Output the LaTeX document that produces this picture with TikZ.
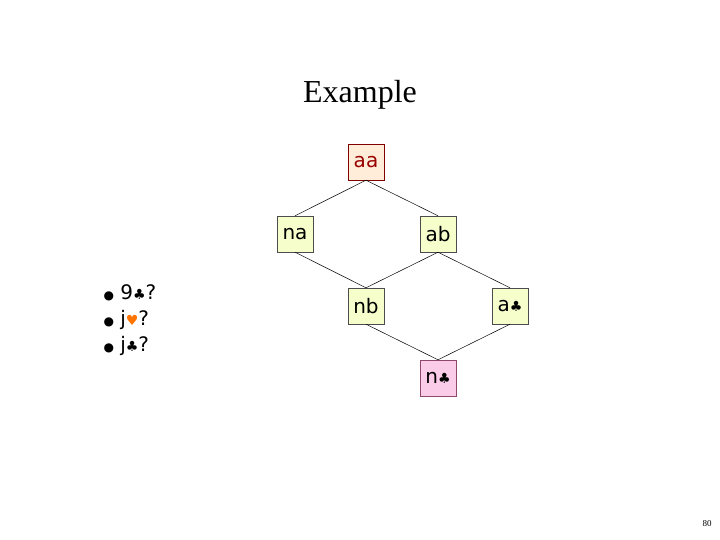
\documentclass[tikz,border=0pt]{standalone}
\usepackage{fontspec}
\setmainfont{DejaVu Sans}
\newfontfamily\titlefont{Liberation Serif}
\begin{document}
\begin{tikzpicture}[x=1pt,y=-1pt,
  box/.style={draw=black!70, minimum width=36pt, minimum height=36pt, inner sep=0pt, font=\fontsize{20}{22}\selectfont},
  gbox/.style={box, fill=green!18!yellow!20},
  edge/.style={draw=black, line width=0.5pt}]
\useasboundingbox (0,0) rectangle (720,540);
\node (title) at (360,95) {\titlefont\fontsize{32}{34}\selectfont Example};
\node[box, fill=orange!15, draw=red!50!black, text=red!60!black] (aa) at (366,162) {aa};
\node[gbox] (na) at (295,234) {na};
\node[gbox] (ab) at (438,234) {ab};
\node[gbox] (nb) at (366,306) {nb};
\node[gbox] (ac) at (510,306) {a\fontsize{14}{14}\selectfont♣};
\node[box, fill=magenta!20, draw=magenta!50!black] (nc) at (438,378) {n\fontsize{14}{14}\selectfont♣};
\draw[edge] (aa.south) -- (na.north);
\draw[edge] (aa.south) -- (ab.north);
\draw[edge] (na.south) -- (nb.north);
\draw[edge] (ab.south) -- (nb.north);
\draw[edge] (ab.south) -- (ac.north);
\draw[edge] (nb.south) -- (nc.north);
\draw[edge] (ac.south) -- (nc.north);
\node[anchor=west, align=left, font=\fontsize{20}{26}\selectfont] (list) at (100,320)
 {{\fontsize{12}{12}\selectfont●} 9{\fontsize{14}{14}\selectfont♣}?\\
  {\fontsize{12}{12}\selectfont●} j{\fontsize{14}{14}\selectfont\color{orange!90!red}♥}?\\
  {\fontsize{12}{12}\selectfont●} j{\fontsize{14}{14}\selectfont♣}?};
\node (pg) at (707,524) {\titlefont\fontsize{9}{9}\selectfont 80};
\end{tikzpicture}
\end{document}
